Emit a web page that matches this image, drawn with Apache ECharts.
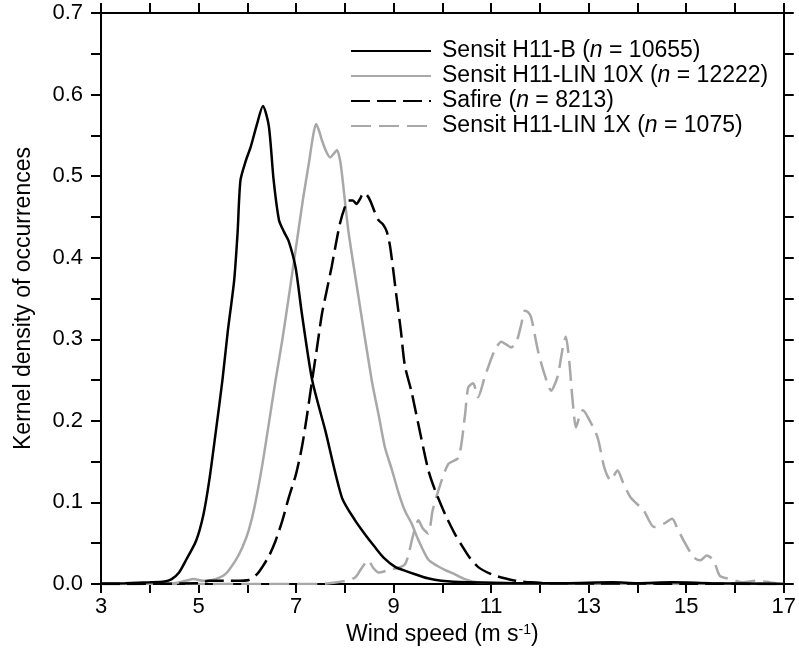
<!DOCTYPE html>
<html>
<head>
<meta charset="utf-8">
<script src="https://cdn.jsdelivr.net/npm/echarts@6/dist/echarts.min.js"></script>
<style>
html,body{margin:0;padding:0;background:#fff;}
#chart{width:799px;height:660px;}
</style>
</head>
<body>
<div id="chart"></div>
<script>
// ---- Data ----
var seriesNames = ['Sensit H11-B', 'Sensit H11-LIN 10X', 'Safire', 'Sensit H11-LIN 1X'];
var seriesCounts = ['10655', '12222', '8213', '1075'];

var h11bX = [3.0, 3.5, 4.0, 4.3, 4.45, 4.6, 4.75, 4.95, 5.1, 5.22, 5.35, 5.49, 5.6, 5.73, 5.8, 5.86, 5.97, 6.07, 6.2, 6.32, 6.44, 6.54, 6.65, 6.75, 6.85, 6.99, 7.12, 7.33, 7.6, 7.94, 8.21, 8.4, 8.62, 8.8, 9.03, 9.2, 9.44, 9.7, 9.98, 10.5, 11.5, 12.5, 13.5, 14.0, 14.7, 15.5, 17.0];
var h11bY = [0.0005, 0.001, 0.002, 0.003, 0.006, 0.014, 0.03, 0.053, 0.085, 0.127, 0.185, 0.250, 0.31, 0.372, 0.43, 0.495, 0.519, 0.536, 0.564, 0.586, 0.562, 0.495, 0.446, 0.432, 0.420, 0.388, 0.331, 0.250, 0.188, 0.106, 0.078, 0.062, 0.045, 0.032, 0.021, 0.017, 0.012, 0.007, 0.004, 0.002, 0.001, 0.001, 0.002, 0.001, 0.002, 0.001, 0.0];

var lin10X = [3.0, 4.5, 4.74, 4.9, 5.1, 5.35, 5.55, 5.76, 5.9, 6.03, 6.15, 6.31, 6.45, 6.58, 6.72, 6.85, 7.05, 7.15, 7.26, 7.35, 7.41, 7.47, 7.53, 7.62, 7.70, 7.78, 7.84, 7.9, 7.94, 8.07, 8.28, 8.55, 8.7, 8.82, 8.97, 9.1, 9.23, 9.37, 9.5, 9.71, 9.9, 10.06, 10.25, 10.46, 10.73, 11.5, 17.0];
var lin10Y = [0.0, 0.001, 0.004, 0.006, 0.004, 0.006, 0.012, 0.029, 0.045, 0.066, 0.095, 0.147, 0.20, 0.250, 0.30, 0.352, 0.434, 0.475, 0.515, 0.55, 0.564, 0.556, 0.544, 0.530, 0.523, 0.528, 0.532, 0.52, 0.503, 0.434, 0.352, 0.250, 0.205, 0.168, 0.139, 0.112, 0.09, 0.074, 0.055, 0.030, 0.022, 0.017, 0.012, 0.006, 0.002, 0.001, 0.0];

var safireX = [3.0, 5.0, 5.22, 5.76, 6.03, 6.2, 6.31, 6.45, 6.58, 6.72, 6.85, 7.0, 7.12, 7.22, 7.33, 7.43, 7.53, 7.63, 7.73, 7.82, 7.90, 8.0, 8.07, 8.16, 8.24, 8.31, 8.38, 8.45, 8.52, 8.6, 8.69, 8.78, 8.86, 8.93, 9.06, 9.15, 9.23, 9.37, 9.5, 9.71, 9.85, 10.06, 10.25, 10.4, 10.55, 10.73, 11.0, 11.21, 11.5, 11.82, 12.2, 17.0];
var safireY = [0.0, 0.001, 0.004, 0.004, 0.005, 0.012, 0.021, 0.035, 0.053, 0.078, 0.106, 0.135, 0.168, 0.205, 0.250, 0.29, 0.331, 0.36, 0.389, 0.418, 0.442, 0.462, 0.470, 0.470, 0.466, 0.472, 0.479, 0.477, 0.470, 0.458, 0.446, 0.441, 0.432, 0.413, 0.352, 0.31, 0.268, 0.235, 0.198, 0.14, 0.115, 0.085, 0.062, 0.047, 0.033, 0.021, 0.012, 0.008, 0.004, 0.002, 0.001, 0.0];

var lin1X = [3.0, 7.5, 7.94, 8.21, 8.35, 8.48, 8.58, 8.69, 8.9, 9.1, 9.23, 9.31, 9.4, 9.51, 9.6, 9.71, 9.8, 9.92, 10.12, 10.33, 10.46, 10.53, 10.63, 10.73, 10.87, 11.07, 11.21, 11.3, 11.41, 11.52, 11.62, 11.69, 11.76, 11.82, 11.96, 12.09, 12.23, 12.36, 12.47, 12.53, 12.60, 12.67, 12.74, 12.81, 12.88, 12.98, 13.18, 13.32, 13.45, 13.59, 13.7, 13.86, 14.13, 14.34, 14.54, 14.71, 14.82, 14.95, 15.15, 15.29, 15.42, 15.56, 15.69, 15.90, 16.17, 16.44, 16.72, 17.0];
var lin1Y = [0.0, 0.0, 0.003, 0.008, 0.02, 0.029, 0.02, 0.014, 0.017, 0.02, 0.024, 0.037, 0.06, 0.078, 0.068, 0.062, 0.09, 0.115, 0.147, 0.155, 0.205, 0.241, 0.246, 0.229, 0.254, 0.286, 0.297, 0.294, 0.290, 0.297, 0.319, 0.335, 0.333, 0.327, 0.286, 0.258, 0.237, 0.254, 0.290, 0.303, 0.274, 0.225, 0.192, 0.205, 0.213, 0.205, 0.180, 0.143, 0.127, 0.139, 0.125, 0.106, 0.090, 0.070, 0.074, 0.080, 0.068, 0.053, 0.033, 0.029, 0.035, 0.029, 0.010, 0.006, 0.002, 0.004, 0.002, 0.0];

var xMin = 3, xMax = 17, xStep = 1;
var yMin = 0, yMax = 0.7, yStep = 0.05;

function zip(xs, ys) { return xs.map(function (x, i) { return [x, ys[i]]; }); }

// ---- Chart ----
var FONT = 'Liberation Sans';
var chart = echarts.init(document.getElementById('chart'), null, {renderer: 'canvas'});

var legendMap = {};
seriesNames.forEach(function (n, i) { legendMap[n] = n + ' ({i|n} = ' + seriesCounts[i] + ')'; });

function xLabel(v) { return (Math.round(v) % 2 === 1) ? String(Math.round(v)) : ''; }
function yLabel(v) { return (Math.round(v * 100) % 10 === 0) ? v.toFixed(1) : ''; }

var axisLineStyle = {color: '#000', width: 2};
var tickStyle = {color: '#000', width: 2};

var option = {
  animation: false,
  backgroundColor: '#fff',
  grid: {left: 101, right: 12, top: 13, bottom: 76, containLabel: false},
  legend: {
    orient: 'vertical',
    left: 345,
    top: 34,
    itemWidth: 80,
    itemHeight: 14,
    itemGap: 1,
    data: seriesNames,
    itemStyle: {opacity: 0},
    formatter: function (name) { return legendMap[name]; },
    textStyle: {
      fontFamily: FONT, fontSize: 23, color: '#000', lineHeight: 24,
      padding: [0, 0, 0, 6],
      rich: {i: {fontFamily: FONT, fontSize: 23, fontStyle: 'italic', color: '#000', lineHeight: 24}}
    }
  },
  xAxis: [{
    type: 'value', min: xMin, max: xMax, interval: xStep, position: 'bottom',
    name: 'Wind speed (m s{sup|-1})', nameLocation: 'middle', nameGap: 36,
    nameTextStyle: {fontFamily: FONT, fontSize: 23, color: '#000',
      rich: {sup: {fontFamily: FONT, fontSize: 14, color: '#000', verticalAlign: 'top', padding: [0, 0, 10, 0]}}},
    axisLine: {show: true, onZero: false, lineStyle: axisLineStyle},
    axisTick: {show: true, inside: false, length: 9, lineStyle: tickStyle},
    axisLabel: {formatter: xLabel, fontFamily: FONT, fontSize: 22, color: '#000', margin: 12, showMinLabel: true, showMaxLabel: true},
    splitLine: {show: false}
  }, {
    type: 'value', min: xMin, max: xMax, interval: xStep, position: 'top',
    axisLine: {show: true, onZero: false, lineStyle: axisLineStyle},
    axisTick: {show: true, inside: false, length: 10, lineStyle: tickStyle},
    axisLabel: {show: false},
    splitLine: {show: false}
  }],
  yAxis: [{
    type: 'value', min: yMin, max: yMax, interval: yStep, position: 'left',
    name: 'Kernel density of occurrences', nameLocation: 'middle', nameGap: 66, nameRotate: 90,
    nameTextStyle: {fontFamily: FONT, fontSize: 23, color: '#000'},
    axisLine: {show: true, onZero: false, lineStyle: axisLineStyle},
    axisTick: {show: true, inside: false, length: 10, lineStyle: tickStyle},
    axisLabel: {formatter: yLabel, fontFamily: FONT, fontSize: 22, color: '#000', margin: 18, showMinLabel: true, showMaxLabel: true},
    splitLine: {show: false}
  }, {
    type: 'value', min: yMin, max: yMax, interval: yStep, position: 'right',
    axisLine: {show: true, onZero: false, lineStyle: axisLineStyle},
    axisTick: {show: true, inside: false, length: 10, lineStyle: tickStyle},
    axisLabel: {show: false},
    splitLine: {show: false}
  }],
  series: [
    {name: seriesNames[0], type: 'line', data: zip(h11bX, h11bY), showSymbol: false, symbol: 'none', smooth: 0.25,
     lineStyle: {color: '#000', width: 2.5, type: 'solid'}, itemStyle: {color: '#000'}, z: 4},
    {name: seriesNames[1], type: 'line', data: zip(lin10X, lin10Y), showSymbol: false, symbol: 'none', smooth: 0.25,
     lineStyle: {color: '#a8a8a8', width: 2.5, type: 'solid'}, itemStyle: {color: '#a8a8a8'}, z: 3},
    {name: seriesNames[2], type: 'line', data: zip(safireX, safireY), showSymbol: false, symbol: 'none', smooth: 0.25,
     lineStyle: {color: '#000', width: 2.5, type: [19, 7]}, itemStyle: {color: '#000'}, z: 5},
    {name: seriesNames[3], type: 'line', data: zip(lin1X, lin1Y), showSymbol: false, symbol: 'none', smooth: 0.25,
     lineStyle: {color: '#a8a8a8', width: 2.5, type: [20, 8]}, itemStyle: {color: '#a8a8a8'}, z: 2}
  ]
};
chart.setOption(option);
</script>
</body>
</html>
